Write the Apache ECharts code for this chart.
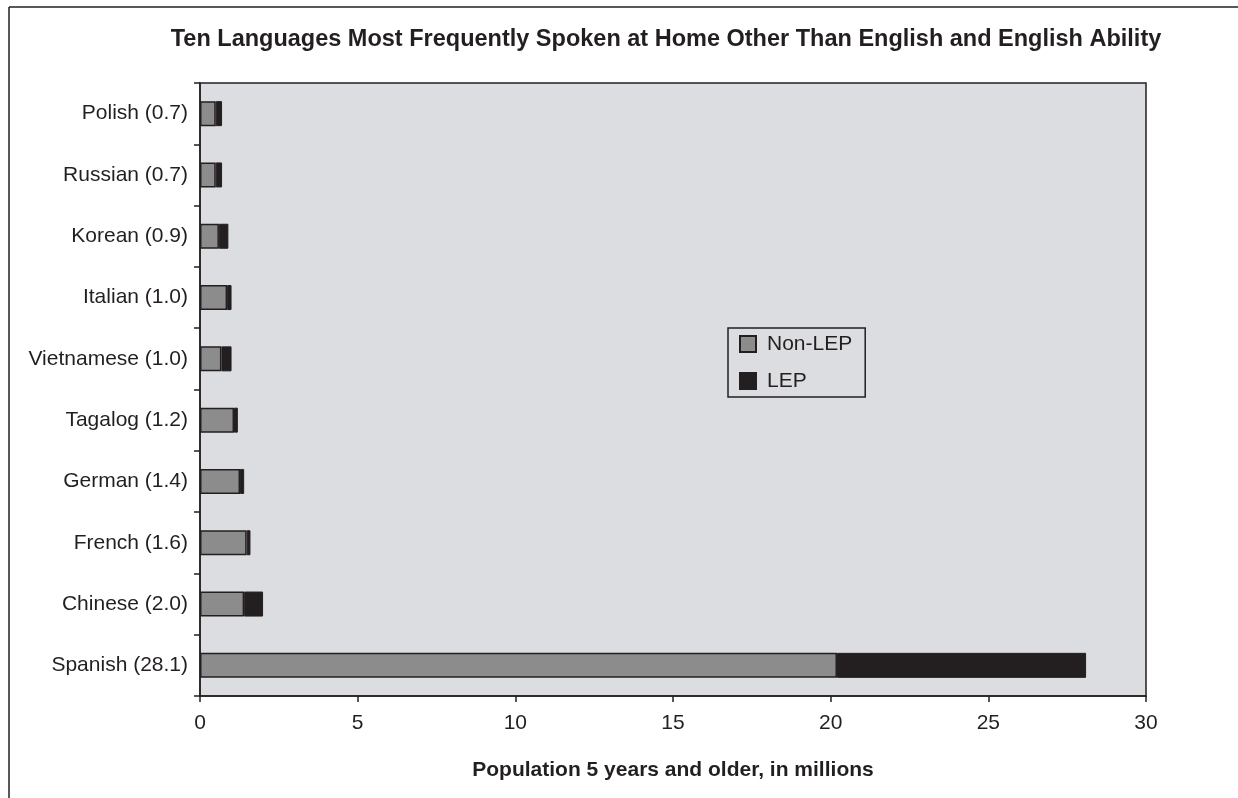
<!DOCTYPE html>
<html>
<head>
<meta charset="utf-8">
<script src="https://cdn.jsdelivr.net/npm/echarts@6/dist/echarts.min.js"></script>
<style>
html,body{margin:0;padding:0;background:#fff;}
#c{width:1238px;height:798px;}
</style>
</head>
<body>
<div id="c"></div>
<script>
// Categories listed bottom to top
const categories = ['Spanish (28.1)', 'Chinese (2.0)', 'French (1.6)', 'German (1.4)', 'Tagalog (1.2)', 'Vietnamese (1.0)', 'Italian (1.0)', 'Korean (0.9)', 'Russian (0.7)', 'Polish (0.7)'];
const nonLEP = [20.2, 1.4, 1.48, 1.27, 1.08, 0.68, 0.86, 0.6, 0.5, 0.5];
const lep = [7.9, 0.6, 0.12, 0.13, 0.12, 0.32, 0.14, 0.3, 0.2, 0.2];
const seriesNames = ['Non-LEP', 'LEP'];
const titleText = 'Ten Languages Most Frequently Spoken at Home Other Than English and English Ability';
const xAxisTitle = 'Population 5 years and older, in millions';

const FONT = '"Liberation Sans", Arial, sans-serif';
const INK = '#231f20';

const chart = echarts.init(document.getElementById('c'), null, {renderer: 'canvas'});
chart.setOption({
  backgroundColor: '#ffffff',
  animation: false,
  title: {
    text: titleText,
    left: 666,
    top: 28,
    textAlign: 'center',
    padding: 0,
    textStyle: {fontFamily: FONT, fontWeight: 'bold', fontSize: 23.5, color: INK}
  },
  legend: {
    orient: 'vertical',
    left: 728,
    top: 328,
    data: seriesNames,
    backgroundColor: 'rgba(0,0,0,0)',
    borderColor: INK,
    borderWidth: 1.5,
    padding: [5, 13, 5, 11],
    itemWidth: 16,
    itemHeight: 16,
    itemGap: 15,
    icon: 'rect',
    textStyle: {fontFamily: FONT, fontSize: 21, color: INK, lineHeight: 22, padding: [0, 0, 0, 6]}
  },
  grid: {left: 200, top: 83, right: 92, bottom: 102, show: true, backgroundColor: '#dcdde0', borderColor: INK, borderWidth: 1.5, containLabel: false},
  xAxis: {
    type: 'value',
    min: 0,
    max: 30,
    interval: 5,
    name: xAxisTitle,
    nameLocation: 'middle',
    nameGap: 64,
    nameTextStyle: {fontFamily: FONT, fontWeight: 'bold', fontSize: 21, color: INK},
    axisLine: {show: true, lineStyle: {color: INK, width: 1.5}},
    axisTick: {show: true, length: 6, lineStyle: {color: INK, width: 1.5}},
    axisLabel: {fontFamily: FONT, fontSize: 21, color: INK, margin: 17},
    splitLine: {show: false}
  },
  yAxis: {
    type: 'category',
    data: categories,
    axisLine: {show: true, lineStyle: {color: INK, width: 1.5}},
    axisTick: {show: true, length: 6, alignWithLabel: false, lineStyle: {color: INK, width: 1.5}},
    axisLabel: {fontFamily: FONT, fontSize: 21, color: INK, margin: 12},
    splitLine: {show: false}
  },
  series: [
    {
      name: seriesNames[0],
      type: 'bar',
      stack: 'total',
      data: nonLEP,
      barWidth: 25,
      itemStyle: {color: '#8c8c8c', borderColor: INK, borderWidth: 1.5}
    },
    {
      name: seriesNames[1],
      type: 'bar',
      stack: 'total',
      data: lep,
      barWidth: 25,
      itemStyle: {color: INK, borderColor: INK, borderWidth: 1}
    }
  ],
  graphic: [
    {type: 'line', shape: {x1: 9, y1: 7, x2: 9, y2: 798}, style: {stroke: INK, lineWidth: 1.5}, silent: true},
    {type: 'line', shape: {x1: 9, y1: 7, x2: 1238, y2: 7}, style: {stroke: INK, lineWidth: 1.5}, silent: true}
  ]
});
</script>
</body>
</html>
